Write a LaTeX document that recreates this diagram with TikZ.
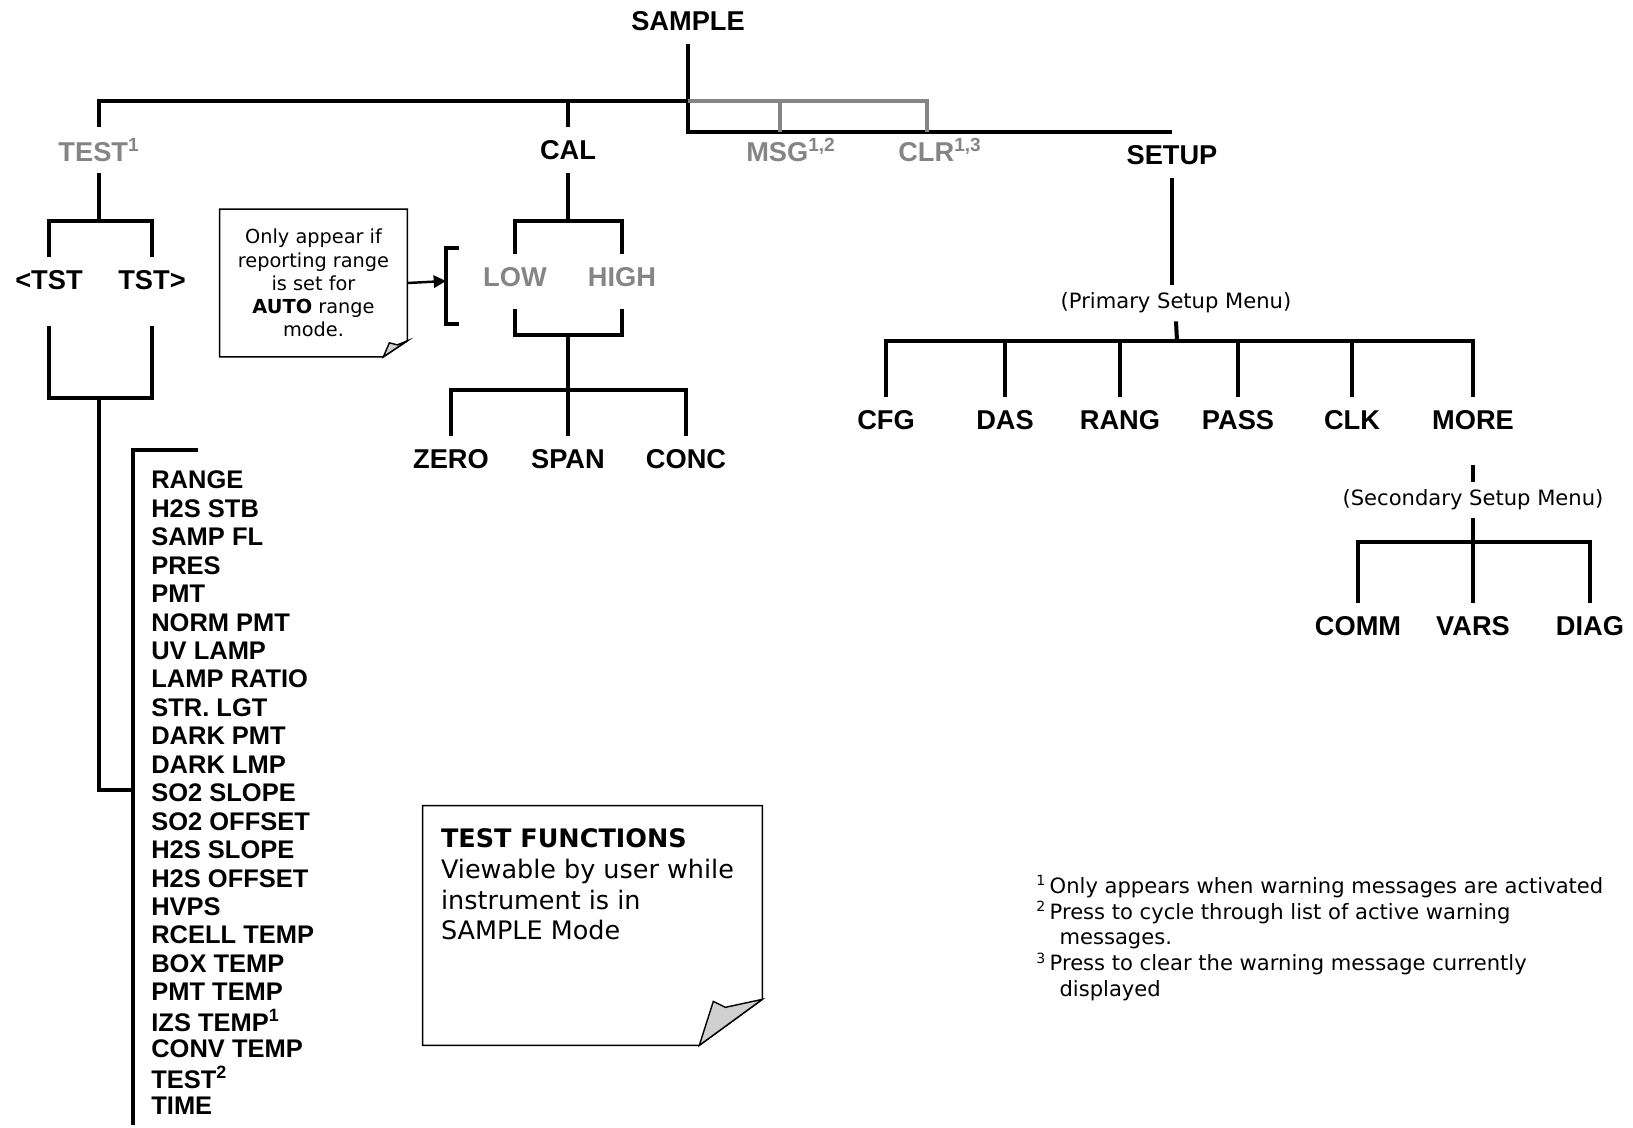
\documentclass[tikz,border=0pt]{standalone}
\usepackage{fontspec}
\setmainfont{Liberation Sans}
\newfontfamily\notefont{DejaVu Sans}
\usepackage{tikz}
\usetikzlibrary{positioning,arrows.meta,calc}
\usepackage{xcolor}
\definecolor{menugrey}{RGB}{133,133,133}
\definecolor{foldgrey}{RGB}{208,208,208}

\begin{document}
\begin{tikzpicture}[x=0.02cm,y=-0.02cm,
  menu/.style={font=\fontsize{15.5}{18}\selectfont\bfseries,inner sep=0pt,minimum height=0.92cm},
  greymenu/.style={menu,text=menugrey},
  testitem/.style={font=\fontsize{14.5}{17}\selectfont\bfseries,inner sep=0pt,anchor=west},
  submenu/.style={font=\notefont\fontsize{12}{14}\selectfont,inner sep=0pt,minimum height=0.72cm},
  notebox/.style={font=\notefont\fontsize{11}{13.2}\selectfont,align=center,inner sep=0pt},
  bar/.style={line width=2.3pt},
  greybar/.style={line width=2pt,draw=menugrey},
  paper/.style={draw,line width=0.8pt},
  curl/.style={draw,line width=0.8pt,fill=foldgrey}]
\useasboundingbox (0,0) rectangle (1633,1127);

\node[menu] (sample) at (688,21) {SAMPLE};
\node[greymenu] (test) at (99,150) {TEST\textsuperscript{1}};
\node[menu] (cal) at (568,150) {CAL};
\node[greymenu] (msg) at (791,150) {MSG\textsuperscript{1,2}};
\node[greymenu] (clr) at (940,150) {CLR\textsuperscript{1,3}};
\node[menu] (setup) at (1172,155) {SETUP};
\coordinate (hub) at (688,101);
\coordinate (msgjoin) at (780,101);
\coordinate (clrjoin) at (927,132);
\draw[bar] (sample.south) |- (setup.north);
\draw[bar] (test.north) |- (hub);
\draw[bar] (cal.north) -- (cal.north |- hub);
\draw[greybar] (hub) -| (clrjoin);
\draw[greybar] (msgjoin) -- (msgjoin |- setup.north);

\node[menu] (tstl) at (49,280) {<TST};
\node[menu] (tstr) at (152,280) {TST>};
\coordinate (tstjoin) at (99,221);
\coordinate (tstbot) at (99,398);
\coordinate (listjoin) at (133,790);
\coordinate (brtop) at (198,450);
\coordinate (brbot) at (133,1125);
\draw[bar] (test.south) -- (tstjoin);
\draw[bar] (tstl.north) |- (tstjoin) -| (tstr.north);
\draw[bar] ($(tstl.south)+(0,23)$) |- (tstbot) -| ($(tstr.south)+(0,23)$);
\draw[bar] (tstbot) |- (listjoin);
\draw[bar] (brtop) -| (brbot);
\foreach \lbl [count=\i from 0] in {RANGE,H2S STB,SAMP FL,PRES,PMT,NORM PMT,UV LAMP,LAMP RATIO,STR. LGT,DARK PMT,DARK LMP,SO2 SLOPE,SO2 OFFSET,H2S SLOPE,H2S OFFSET,HVPS,RCELL TEMP,BOX TEMP,PMT TEMP,IZS TEMP\textsuperscript{1},CONV TEMP,TEST\textsuperscript{2},TIME}
  \node[testitem] (tf\i) at (151,{480+28.45*\i}) {\lbl};

\node[notebox,minimum width=3.74cm,minimum height=2.94cm] (autonote) at (313.5,283) {Only appear if\\reporting range\\is set for\\\textbf{AUTO} range\\mode.};
\draw[paper] (autonote.north west) -- (autonote.north east) -- ($(autonote.south east)+(0,-16)$) -- ($(autonote.south east)+(-24,0)$) -- (autonote.south west) -- cycle;
\draw[curl] ($(autonote.south east)+(0,-16)$) -- ($(autonote.south east)+(-10,-12)$) -- ($(autonote.south east)+(-18,-14)$) -- ($(autonote.south east)+(-24,0)$) -- cycle;
\coordinate (rangebrk) at (446,281);
\draw[line width=1.4pt,-{Triangle[length=7pt,width=7pt]}] (autonote.east) -- (rangebrk);
\draw[bar] ($(rangebrk)+(13,-33)$) -- ($(rangebrk)+(0,-33)$) -- ($(rangebrk)+(0,43)$) -- ($(rangebrk)+(13,43)$);

\node[greymenu] (low) at (515,277) {LOW};
\node[greymenu] (high) at (622,277) {HIGH};
\node[menu] (zero) at (451,459) {ZERO};
\node[menu] (span) at (568,459) {SPAN};
\node[menu] (conc) at (686,459) {CONC};
\coordinate (caljoin) at (568,221);
\coordinate (calbot) at (568,335);
\coordinate (spanjoin) at (568,390);
\draw[bar] (cal.south) -- (caljoin);
\draw[bar] (low.north) |- (caljoin) -| (high.north);
\draw[bar] ($(low.south)+(0,9)$) |- (calbot) -| ($(high.south)+(0,9)$);
\draw[bar] (calbot) -- (span.north);
\draw[bar] (zero.north) |- (spanjoin) -| (conc.north);

\node[submenu] (primary) at (1176,303) {(Primary Setup Menu)};
\node[menu] (cfg) at (886,420) {CFG};
\node[menu] (das) at (1005,420) {DAS};
\node[menu] (rang) at (1120,420) {RANG};
\node[menu] (pass) at (1238,420) {PASS};
\node[menu] (clk) at (1352,420) {CLK};
\node[menu] (more) at (1473,420) {MORE};
\coordinate (primjoin) at (1177,341);
\draw[bar] (setup.south) -- (setup.south |- primary.north);
\draw[bar] (primary.south) -- (primjoin);
\draw[bar] (cfg.north) |- (primjoin) -| (more.north);
\foreach \n in {das,rang,pass,clk}
  \draw[bar] (\n.north) -- (\n.north |- primjoin);

\node[submenu] (secondary) at (1473,500) {(Secondary Setup Menu)};
\node[menu] (comm) at (1358,626) {COMM};
\node[menu] (vars) at (1473,626) {VARS};
\node[menu] (diag) at (1590,626) {DIAG};
\coordinate (secjoin) at (1473,542);
\draw[bar] ($(more.south)+(0,22)$) -- (secondary.north);
\draw[bar] (secondary.south) -- (vars.north);
\draw[bar] (comm.north) |- (secjoin) -| (diag.north);

\node[minimum width=6.78cm,minimum height=4.78cm,inner sep=0pt] (tfbox) at (592.5,925.5) {};
\draw[paper] (tfbox.north west) -- (tfbox.north east) -- ($(tfbox.south east)+(0,-46)$) -- ($(tfbox.south east)+(-63,0)$) -- (tfbox.south west) -- cycle;
\draw[curl] ($(tfbox.south east)+(0,-46)$) -- ($(tfbox.south east)+(-37,-38)$) -- ($(tfbox.south east)+(-49,-44)$) -- ($(tfbox.south east)+(-63,0)$) -- cycle;
\node[anchor=north west,align=left,inner sep=0pt,font=\notefont\fontsize{14.5}{17.4}\selectfont] (tftext) at ($(tfbox.north west)+(18,23)$) {\textbf{TEST FUNCTIONS}\\Viewable by user while\\instrument is in\\SAMPLE Mode};

\node[anchor=north west,align=left,inner sep=0pt,font=\notefont\fontsize{12}{14.7}\selectfont] (footnotes) at (1036,875) {\textsuperscript{1}\,Only appears when warning messages are activated\\\textsuperscript{2}\,Press to cycle through list of active warning\\\hspace*{1.1em}messages.\\\textsuperscript{3}\,Press to clear the warning message currently\\\hspace*{1.1em}displayed};
\end{tikzpicture}
\end{document}
